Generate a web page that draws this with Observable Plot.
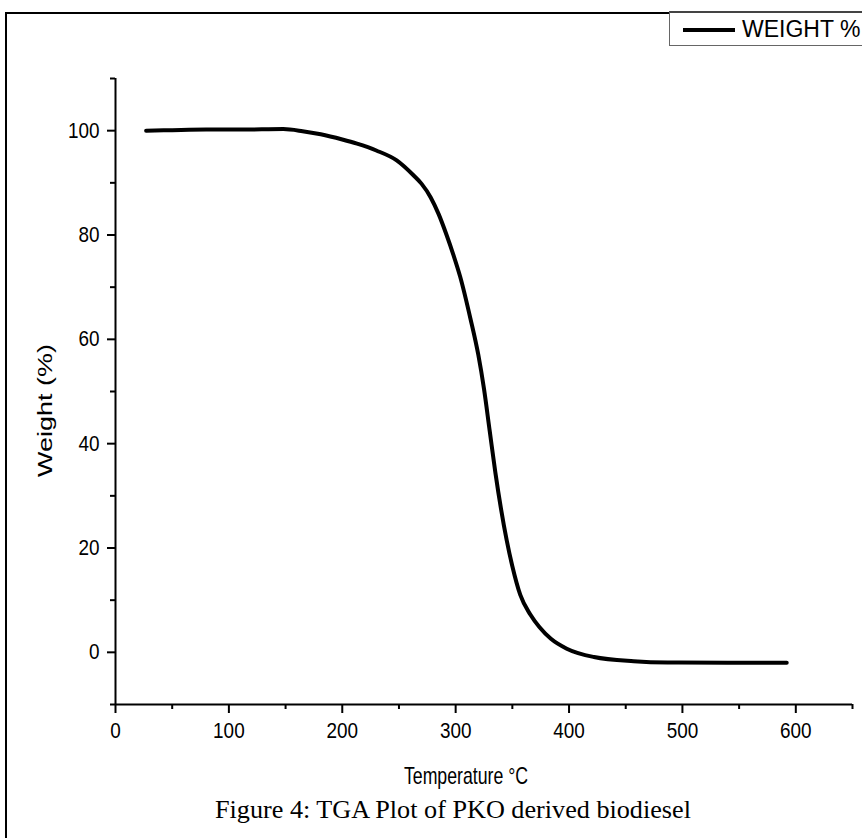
<!DOCTYPE html>
<html>
<head>
<meta charset="utf-8">
<script src="https://cdn.jsdelivr.net/npm/d3@7"></script>
<script src="https://cdn.jsdelivr.net/npm/@observablehq/plot@0.6"></script>
<style>
  html, body { margin: 0; padding: 0; background: #fff; }
  #wrap { position: relative; width: 862px; height: 838px; overflow: hidden; background: #fff; }
  #frame { position: absolute; left: 5px; top: 12px; width: 1000px; height: 1000px; border: 2px solid #000; box-sizing: border-box; }
  #chart { position: absolute; left: 0; top: 0; }
  #legend { position: absolute; left: 669px; top: 11px; width: 220px; height: 35px; border: 1.5px solid #666; border-top: 2.5px solid #444; box-sizing: border-box; background: #fff; }
  #legend .sw { position: absolute; left: 13px; top: 15px; width: 52px; height: 4px; background: #000; }
  #legend .lb { position: absolute; left: 72px; top: 2px; font-family: 'Liberation Sans', Arial, sans-serif; font-size: 23px; line-height: 28px; color: #000; white-space: nowrap; }
  #caption { position: absolute; left: 0; width: 862px; top: 794px; text-align: left; padding-left: 215px; box-sizing: border-box; font-family: 'Liberation Serif', 'Times New Roman', serif; font-size: 26.2px; line-height: 32px; color: #000; white-space: nowrap; }
</style>
</head>
<body>
<div id="wrap">
  <div id="frame"></div>
  <div id="chart"></div>
  <div id="legend"><div class="sw"></div><div class="lb">WEIGHT %</div></div>
  <div id="caption">Figure 4: TGA Plot of PKO derived biodiesel</div>
</div>
<script>
// Data
const temperature = [27, 50, 80, 110, 148, 165, 181, 200, 213, 230, 248, 263, 270, 278, 285, 292, 298, 304, 313, 320, 325, 330, 335, 340, 345, 350, 357, 366, 374, 384, 398, 422, 457, 487, 540, 592];
const weight      = [100.0, 100.1, 100.2, 100.2, 100.3, 99.9, 99.3, 98.3, 97.5, 96.2, 94.3, 91.4, 89.8, 87.2, 84.0, 80.0, 76.2, 72.0, 64.0, 57.0, 50.5, 42.5, 34.5, 27.5, 21.5, 16.5, 11.0, 7.2, 4.8, 2.6, 0.7, -0.9, -1.7, -1.95, -2.0, -2.0];
const xTicks = [0, 100, 200, 300, 400, 500, 600];
const xMinor = [50, 150, 250, 350, 450, 550, 650];
const yTicks = [0, 20, 40, 60, 80, 100];
const yMinor = [-10, 10, 30, 50, 70, 90, 110];
const xLabel = "Temperature \u00B0C";
const yLabel = "Weight (%)";

const rows = temperature.map((t, i) => ({t, w: weight[i]}));
const sans = "'Liberation Sans', Arial, sans-serif";

const chart = Plot.plot({
  width: 862,
  height: 800,
  marginLeft: 115,
  marginRight: 10,
  marginTop: 78,
  marginBottom: 96,
  style: {fontFamily: sans, color: "#000", background: "transparent", overflow: "visible"},
  x: {domain: [0, 650]},
  y: {domain: [-10, 110]},
  marks: [
    Plot.axisX(xMinor, {tickSize: 5, strokeWidth: 2, tickFormat: () => "", label: null}),
    Plot.axisX(xTicks, {tickSize: 9, strokeWidth: 2, tickPadding: 9, fontSize: 22, label: null}),
    Plot.axisY(yMinor, {tickSize: 5, strokeWidth: 2, tickFormat: () => "", label: null}),
    Plot.axisY(yTicks, {tickSize: 8, strokeWidth: 2, tickPadding: 8, fontSize: 22, label: null}),
    Plot.ruleX([0], {y1: -10, y2: 110, strokeWidth: 2}),
    Plot.ruleY([-10], {x1: 0, x2: 650, strokeWidth: 2}),
    Plot.line(rows, {x: "t", y: "w", strokeWidth: 4, curve: "monotone-x", stroke: "#000"}),
    Plot.text([xLabel], {text: d => d, frameAnchor: "bottom", lineAnchor: "middle", dx: -18, dy: 72, fontSize: 23, fill: "#000"}),
    Plot.text([yLabel], {text: d => d, frameAnchor: "left", textAnchor: "middle", rotate: -90, dx: -70, dy: 19, fontSize: 27, fill: "#000"})
  ]
});

// condense text glyphs to match the narrow lettering of the original
function squeezeEl(t, sx, sy) {
  const tr = t.getAttribute("transform") || "";
  t.setAttribute("transform", (tr + ` scale(${sx},${sy})`).trim());
}
chart.querySelectorAll('g[aria-label="x-axis tick label"] text, g[aria-label="y-axis tick label"] text')
  .forEach(t => squeezeEl(t, 0.86, 1));
chart.querySelectorAll('g[aria-label="text"] text').forEach(t => {
  if (t.textContent === xLabel) squeezeEl(t, 0.77, 1);
  else if (t.textContent === yLabel) squeezeEl(t, 1, 0.72);
});

document.getElementById("chart").appendChild(chart);
</script>
</body>
</html>
